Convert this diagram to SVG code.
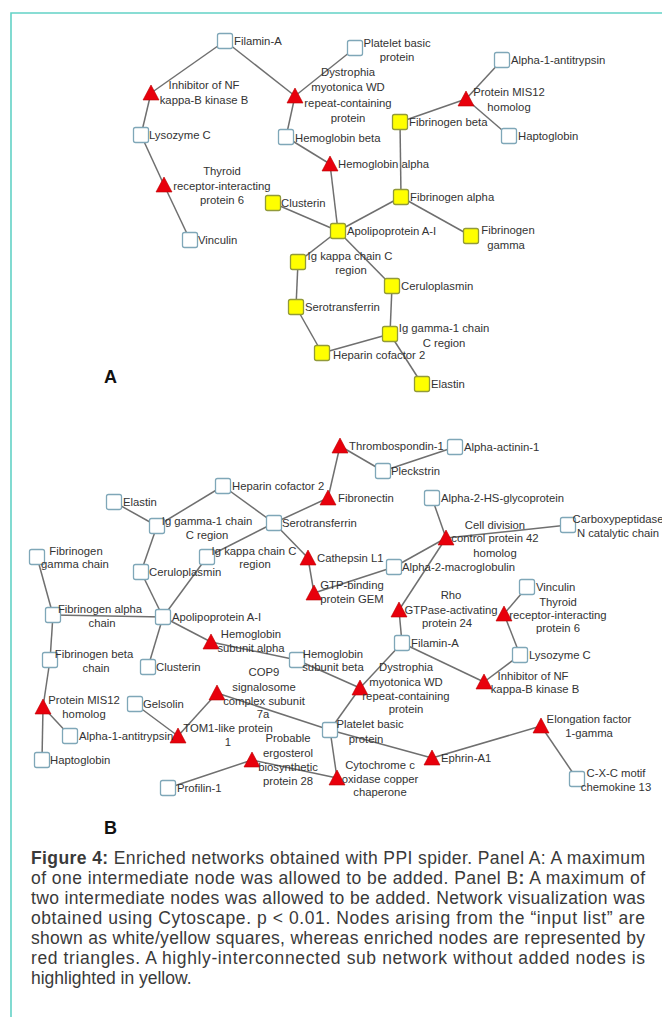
<svg xmlns="http://www.w3.org/2000/svg" xmlns:xlink="http://www.w3.org/1999/xlink" width="662" height="1020" viewBox="0 0 662 1020">
<style>
.frame{fill:none;stroke:#63d2c6;stroke-width:1.6}
.edge line{stroke:#6f6f6f;stroke-width:1.5}
.sq{fill:#ffffff;stroke:#7fa7b8;stroke-width:1.3}
.ys{fill:#ffff00;stroke:#929a3a;stroke-width:1.3}
.tri{fill:#e8000c;stroke:#b80000;stroke-width:0.6}
text{font-family:"Liberation Sans",Arial,sans-serif;font-size:11.3px;fill:#333333}
.m{text-anchor:middle}
.panel{font-size:18px;font-weight:bold;fill:#111111}
.cap{font-family:"Liberation Sans",Arial,sans-serif;font-size:17.5px;fill:#3a3a3a}
.capb{font-weight:bold}
</style>
<defs>
<rect id="box" x="-7.5" y="-7.5" width="15" height="15" rx="2"/>
<path id="tr" d="M0,-8 L8,7 L-8,7 Z"/>
</defs>
<path class="frame" d="M11,1017 V13 H662"/>

<g id="connectors" class="edge">
<!-- Panel A -->
<line x1="225" y1="41" x2="151" y2="93"/>
<line x1="225" y1="41" x2="295" y2="96"/>
<line x1="151" y1="93" x2="141" y2="135"/>
<line x1="141" y1="135" x2="164" y2="185"/>
<line x1="164" y1="185" x2="190" y2="240"/>
<line x1="295" y1="96" x2="355" y2="48"/>
<line x1="295" y1="96" x2="286" y2="137"/>
<line x1="286" y1="137" x2="330" y2="164"/>
<line x1="330" y1="164" x2="338" y2="231"/>
<line x1="273" y1="203" x2="338" y2="231"/>
<line x1="338" y1="231" x2="401" y2="197"/>
<line x1="401" y1="197" x2="400" y2="122"/>
<line x1="401" y1="197" x2="471" y2="236"/>
<line x1="400" y1="122" x2="466" y2="99"/>
<line x1="466" y1="99" x2="502" y2="60"/>
<line x1="466" y1="99" x2="509" y2="136"/>
<line x1="338" y1="231" x2="298" y2="262"/>
<line x1="338" y1="231" x2="392" y2="286"/>
<line x1="298" y1="262" x2="296" y2="307"/>
<line x1="296" y1="307" x2="322" y2="353"/>
<line x1="392" y1="286" x2="390" y2="334"/>
<line x1="390" y1="334" x2="322" y2="353"/>
<line x1="390" y1="334" x2="422" y2="384"/>
<!-- Panel B -->
<line x1="340" y1="446" x2="383" y2="471"/>
<line x1="383" y1="471" x2="455" y2="447"/>
<line x1="340" y1="446" x2="328" y2="498"/>
<line x1="328" y1="498" x2="274" y2="523"/>
<line x1="223" y1="486" x2="274" y2="523"/>
<line x1="223" y1="486" x2="157" y2="526"/>
<line x1="114" y1="502" x2="157" y2="526"/>
<line x1="157" y1="526" x2="141" y2="572"/>
<line x1="274" y1="523" x2="207" y2="557"/>
<line x1="274" y1="523" x2="308" y2="558"/>
<line x1="308" y1="558" x2="314" y2="593"/>
<line x1="314" y1="593" x2="394" y2="567"/>
<line x1="394" y1="567" x2="446" y2="538"/>
<line x1="432" y1="498" x2="446" y2="538"/>
<line x1="446" y1="538" x2="568" y2="525"/>
<line x1="446" y1="538" x2="399" y2="610"/>
<line x1="399" y1="610" x2="402" y2="643"/>
<line x1="402" y1="643" x2="360" y2="688"/>
<line x1="402" y1="643" x2="484" y2="682"/>
<line x1="484" y1="682" x2="520" y2="655"/>
<line x1="520" y1="655" x2="504" y2="614"/>
<line x1="504" y1="614" x2="527" y2="587"/>
<line x1="360" y1="688" x2="297" y2="660"/>
<line x1="297" y1="660" x2="211" y2="642"/>
<line x1="211" y1="642" x2="163" y2="617"/>
<line x1="360" y1="688" x2="330" y2="730"/>
<line x1="330" y1="730" x2="217" y2="693"/>
<line x1="330" y1="730" x2="337" y2="778"/>
<line x1="330" y1="730" x2="432" y2="758"/>
<line x1="432" y1="758" x2="541" y2="726"/>
<line x1="541" y1="726" x2="577" y2="779"/>
<line x1="217" y1="693" x2="178" y2="736"/>
<line x1="178" y1="736" x2="135" y2="704"/>
<line x1="252" y1="760" x2="168" y2="788"/>
<line x1="252" y1="760" x2="337" y2="778"/>
<line x1="163" y1="617" x2="141" y2="572"/>
<line x1="163" y1="617" x2="207" y2="557"/>
<line x1="163" y1="617" x2="148" y2="667"/>
<line x1="163" y1="617" x2="53" y2="615"/>
<line x1="53" y1="615" x2="37" y2="557"/>
<line x1="53" y1="615" x2="50" y2="660"/>
<line x1="50" y1="660" x2="43" y2="707"/>
<line x1="43" y1="707" x2="70" y2="736"/>
<line x1="43" y1="707" x2="42" y2="760"/>
</g>

<!-- Panel A nodes -->
<g id="a-filamin"><use href="#box" class="sq" x="225" y="41"/><text x="234" y="45">Filamin-A</text></g>
<g id="a-inhibitor"><use href="#tr" class="tri" x="151" y="93"/><text class="m" x="204" y="89">Inhibitor of NF</text><text class="m" x="204" y="104">kappa-B kinase B</text></g>
<g id="a-dystrophia"><use href="#tr" class="tri" x="295" y="96"/><text class="m" x="348" y="76">Dystrophia</text><text class="m" x="348" y="91">myotonica WD</text><text class="m" x="348" y="107">repeat-containing</text><text class="m" x="348" y="122">protein</text></g>
<g id="a-platelet"><use href="#box" class="sq" x="355" y="48"/><text class="m" x="397" y="47">Platelet basic</text><text class="m" x="397" y="61">protein</text></g>
<g id="a-a1at"><use href="#box" class="sq" x="502" y="60"/><text x="511" y="64">Alpha-1-antitrypsin</text></g>
<g id="a-mis12"><use href="#tr" class="tri" x="466" y="99"/><text class="m" x="509" y="96">Protein MIS12</text><text class="m" x="509" y="111">homolog</text></g>
<g id="a-fibb"><use href="#box" class="ys" x="400" y="122"/><text x="409" y="126">Fibrinogen beta</text></g>
<g id="a-lyso"><use href="#box" class="sq" x="141" y="135"/><text x="149" y="139">Lysozyme C</text></g>
<g id="a-hbb"><use href="#box" class="sq" x="286" y="137"/><text x="295" y="142">Hemoglobin beta</text></g>
<g id="a-hapto"><use href="#box" class="sq" x="509" y="136"/><text x="518" y="140">Haptoglobin</text></g>
<g id="a-hba"><use href="#tr" class="tri" x="330" y="164"/><text x="338" y="168">Hemoglobin alpha</text></g>
<g id="a-thyroid"><use href="#tr" class="tri" x="164" y="185"/><text class="m" x="222" y="175">Thyroid</text><text class="m" x="222" y="190">receptor-interacting</text><text class="m" x="222" y="204">protein 6</text></g>
<g id="a-fiba"><use href="#box" class="ys" x="401" y="197"/><text x="410" y="201">Fibrinogen alpha</text></g>
<g id="a-clusterin"><use href="#box" class="ys" x="273" y="203"/><text x="281" y="207">Clusterin</text></g>
<g id="a-apo"><use href="#box" class="ys" x="338" y="231"/><text x="347" y="235">Apolipoprotein A-I</text></g>
<g id="a-fibg"><use href="#box" class="ys" x="471" y="236"/><text class="m" x="508" y="234">Fibrinogen</text><text class="m" x="506" y="249">gamma</text></g>
<g id="a-vinculin"><use href="#box" class="sq" x="190" y="240"/><text x="198" y="244">Vinculin</text></g>
<g id="a-igk"><use href="#box" class="ys" x="298" y="262"/><text class="m" x="350" y="260">Ig kappa chain C</text><text class="m" x="351" y="274">region</text></g>
<g id="a-cerulo"><use href="#box" class="ys" x="392" y="286"/><text x="401" y="290">Ceruloplasmin</text></g>
<g id="a-sero"><use href="#box" class="ys" x="296" y="307"/><text x="305" y="311">Serotransferrin</text></g>
<g id="a-igg"><use href="#box" class="ys" x="390" y="334"/><text class="m" x="444" y="332">Ig gamma-1 chain</text><text class="m" x="444" y="347">C region</text></g>
<g id="a-hc2"><use href="#box" class="ys" x="322" y="353"/><text x="333" y="359">Heparin cofactor 2</text></g>
<g id="a-elastin"><use href="#box" class="ys" x="422" y="384"/><text x="431" y="388">Elastin</text></g>
<text class="panel" x="104" y="383">A</text>

<!-- Panel B nodes -->
<g id="b-thrombo"><use href="#tr" class="tri" x="340" y="446"/><text x="349" y="450">Thrombospondin-1</text></g>
<g id="b-actinin"><use href="#box" class="sq" x="455" y="447"/><text x="464" y="451">Alpha-actinin-1</text></g>
<g id="b-pleck"><use href="#box" class="sq" x="383" y="471"/><text x="391" y="475">Pleckstrin</text></g>
<g id="b-hc2"><use href="#box" class="sq" x="223" y="486"/><text x="232" y="490">Heparin cofactor 2</text></g>
<g id="b-fibronectin"><use href="#tr" class="tri" x="328" y="498"/><text x="338" y="502">Fibronectin</text></g>
<g id="b-a2hs"><use href="#box" class="sq" x="432" y="498"/><text x="441" y="502">Alpha-2-HS-glycoprotein</text></g>
<g id="b-elastin"><use href="#box" class="sq" x="114" y="502"/><text x="123" y="506">Elastin</text></g>
<g id="b-igg"><use href="#box" class="sq" x="157" y="526"/><text class="m" x="207" y="525">Ig gamma-1 chain</text><text class="m" x="207" y="539">C region</text></g>
<g id="b-sero"><use href="#box" class="sq" x="274" y="523"/><text x="282" y="527">Serotransferrin</text></g>
<g id="b-cdc42"><use href="#tr" class="tri" x="446" y="538"/><text class="m" x="495" y="529">Cell division</text><text class="m" x="495" y="542">control protein 42</text><text class="m" x="495" y="557">homolog</text></g>
<g id="b-carboxy"><use href="#box" class="sq" x="568" y="525"/><text class="m" x="618" y="523">Carboxypeptidase</text><text class="m" x="618" y="537">N catalytic chain</text></g>
<g id="b-fibg"><use href="#box" class="sq" x="37" y="557"/><text class="m" x="76" y="555">Fibrinogen</text><text class="m" x="75" y="568">gamma chain</text></g>
<g id="b-igk"><use href="#box" class="sq" x="207" y="557"/><text class="m" x="254" y="555">Ig kappa chain C</text><text class="m" x="255" y="568">region</text></g>
<g id="b-cathepsin"><use href="#tr" class="tri" x="308" y="558"/><text x="317" y="562">Cathepsin L1</text></g>
<g id="b-a2m"><use href="#box" class="sq" x="394" y="567"/><text x="402" y="571">Alpha-2-macroglobulin</text></g>
<g id="b-cerulo"><use href="#box" class="sq" x="141" y="572"/><text x="149" y="576">Ceruloplasmin</text></g>
<g id="b-gtp"><use href="#tr" class="tri" x="314" y="593"/><text class="m" x="352" y="589">GTP-binding</text><text class="m" x="352" y="603">protein GEM</text></g>
<g id="b-vinculin"><use href="#box" class="sq" x="527" y="587"/><text x="536" y="591">Vinculin</text></g>
<g id="b-rho"><use href="#tr" class="tri" x="399" y="610"/><text class="m" x="451" y="599">Rho</text><text class="m" x="451" y="614">GTPase-activating</text><text class="m" x="447" y="627">protein 24</text></g>
<g id="b-thyroid"><use href="#tr" class="tri" x="504" y="614"/><text class="m" x="558" y="606">Thyroid</text><text class="m" x="558" y="619">receptor-interacting</text><text class="m" x="558" y="632">protein 6</text></g>
<g id="b-fiba"><use href="#box" class="sq" x="53" y="615"/><text class="m" x="100" y="613">Fibrinogen alpha</text><text class="m" x="102" y="627">chain</text></g>
<g id="b-apo"><use href="#box" class="sq" x="163" y="617"/><text x="172" y="621">Apolipoprotein A-I</text></g>
<g id="b-hba"><use href="#tr" class="tri" x="211" y="642"/><text class="m" x="251" y="638">Hemoglobin</text><text class="m" x="251" y="652">subunit alpha</text></g>
<g id="b-filamin"><use href="#box" class="sq" x="402" y="643"/><text x="411" y="647">Filamin-A</text></g>
<g id="b-hbb"><use href="#box" class="sq" x="297" y="660"/><text class="m" x="333" y="658">Hemoglobin</text><text class="m" x="333" y="671">subunit beta</text></g>
<g id="b-fibb"><use href="#box" class="sq" x="50" y="660"/><text class="m" x="94" y="658">Fibrinogen beta</text><text class="m" x="96" y="672">chain</text></g>
<g id="b-lyso"><use href="#box" class="sq" x="520" y="655"/><text x="529" y="659">Lysozyme C</text></g>
<g id="b-clusterin"><use href="#box" class="sq" x="148" y="667"/><text x="156" y="671">Clusterin</text></g>
<g id="b-dystrophia"><use href="#tr" class="tri" x="360" y="688"/><text class="m" x="406" y="671">Dystrophia</text><text class="m" x="406" y="686">myotonica WD</text><text class="m" x="406" y="700">repeat-containing</text><text class="m" x="406" y="713">protein</text></g>
<g id="b-cop9"><use href="#tr" class="tri" x="217" y="693"/><text class="m" x="264" y="676">COP9</text><text class="m" x="264" y="691">signalosome</text><text class="m" x="264" y="705">complex subunit</text><text class="m" x="263" y="718">7a</text></g>
<g id="b-inhibitor"><use href="#tr" class="tri" x="484" y="682"/><text class="m" x="533" y="680">Inhibitor of NF</text><text class="m" x="535" y="693">kappa-B kinase B</text></g>
<g id="b-mis12"><use href="#tr" class="tri" x="43" y="707"/><text class="m" x="84" y="704">Protein MIS12</text><text class="m" x="84" y="718">homolog</text></g>
<g id="b-gelsolin"><use href="#box" class="sq" x="135" y="704"/><text x="143" y="708">Gelsolin</text></g>
<g id="b-platelet"><use href="#box" class="sq" x="330" y="730"/><text class="m" x="370" y="728">Platelet basic</text><text class="m" x="366" y="743">protein</text></g>
<g id="b-elongf"><use href="#tr" class="tri" x="541" y="726"/><text class="m" x="589" y="723">Elongation factor</text><text class="m" x="589" y="737">1-gamma</text></g>
<g id="b-tom1"><use href="#tr" class="tri" x="178" y="736"/><text class="m" x="228" y="732">TOM1-like protein</text><text class="m" x="228" y="746">1</text></g>
<g id="b-a1at"><use href="#box" class="sq" x="70" y="736"/><text x="79" y="740">Alpha-1-antitrypsin</text></g>
<g id="b-probable"><use href="#tr" class="tri" x="252" y="760"/><text class="m" x="288" y="742">Probable</text><text class="m" x="288" y="757">ergosterol</text><text class="m" x="288" y="771">biosynthetic</text><text class="m" x="288" y="785">protein 28</text></g>
<g id="b-ephrin"><use href="#tr" class="tri" x="432" y="758"/><text x="441" y="762">Ephrin-A1</text></g>
<g id="b-hapto"><use href="#box" class="sq" x="42" y="760"/><text x="50" y="764">Haptoglobin</text></g>
<g id="b-cyto"><use href="#tr" class="tri" x="337" y="778"/><text class="m" x="380" y="769">Cytochrome c</text><text class="m" x="380" y="783">oxidase copper</text><text class="m" x="380" y="796">chaperone</text></g>
<g id="b-cxc"><use href="#box" class="sq" x="577" y="779"/><text class="m" x="616" y="777">C-X-C motif</text><text class="m" x="616" y="791">chemokine 13</text></g>
<g id="b-profilin"><use href="#box" class="sq" x="168" y="788"/><text x="177" y="792">Profilin-1</text></g>
<text class="panel" x="104" y="834">B</text>

<!-- Caption (justified lines) -->
<g id="caption">
<text class="cap" x="31" y="864" textLength="614" lengthAdjust="spacing"><tspan class="capb">Figure 4:</tspan> Enriched networks obtained with PPI spider. Panel A: A maximum</text>
<text class="cap" x="31" y="884" textLength="614" lengthAdjust="spacing">of one intermediate node was allowed to be added. Panel B<tspan class="capb">:</tspan> A maximum of</text>
<text class="cap" x="31" y="904" textLength="614" lengthAdjust="spacing">two intermediate nodes was allowed to be added. Network visualization was</text>
<text class="cap" x="31" y="924" textLength="614" lengthAdjust="spacing">obtained using Cytoscape. p &lt; 0.01. Nodes arising from the “input list” are</text>
<text class="cap" x="31" y="944" textLength="614" lengthAdjust="spacing">shown as white/yellow squares, whereas enriched nodes are represented by</text>
<text class="cap" x="31" y="964" textLength="614" lengthAdjust="spacing">red triangles. A highly-interconnected sub network without added nodes is</text>
<text class="cap" x="31" y="984">highlighted in yellow.</text>
</g>
</svg>
